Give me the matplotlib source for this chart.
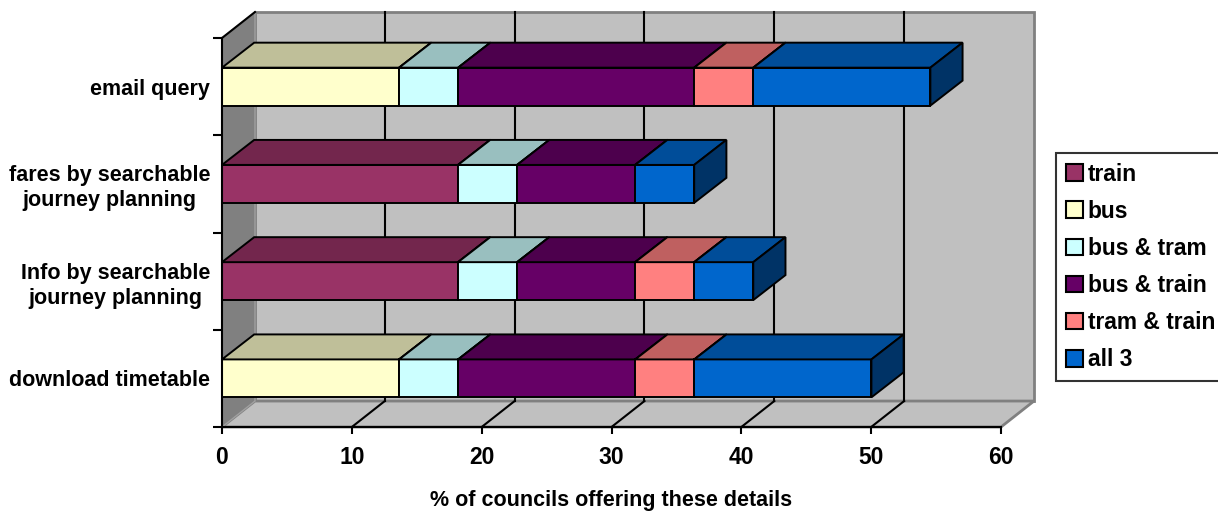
##################################
# Importing necessary modules

import numpy as np
import matplotlib.pyplot as plt
from matplotlib.patches import Polygon, Patch

##################################
# Data: % of 22 councils offering each detail, split by modes covered

categories = ['download timetable',
              'Info by searchable\njourney planning',
              'fares by searchable\njourney planning',
              'email query']
series_names = ['train', 'bus', 'bus & tram', 'bus & train', 'tram & train', 'all 3']
train = [0.0, 18.18, 18.18, 0.0]
bus = [13.64, 0.0, 0.0, 13.64]
bus_tram = [4.55, 4.55, 4.55, 4.55]
bus_train = [13.64, 9.09, 9.09, 18.18]
tram_train = [4.55, 4.55, 0.0, 4.55]
all_3 = [13.64, 4.55, 4.55, 13.64]
colours = ['#993366', '#FFFFCC', '#CCFFFF', '#660066', '#FF8080', '#0066CC']
x_ticks = [0, 10, 20, 30, 40, 50, 60]

series = [train, bus, bus_tram, bus_train, tram_train, all_3]

##################################
# Figure and axes

plt.rcParams['font.family'] = ['Liberation Sans', 'DejaVu Sans']
plt.rcParams['font.weight'] = 'bold'
fs = 15.5

fig = plt.figure(figsize=(12.18, 5.12), dpi=100)
ax = fig.add_axes([222 / 1218, 85 / 512, 779 / 1218, 389 / 512])
ax.set_xlim(0, 60)
ax.set_ylim(-0.5, 3.5)

# depth offsets (data units) for walls and bars
wdx, wdy = 2.54, 0.267
bdx, bdy = 2.48, 0.257
bar_h = 0.39


def shade(c, f):
    rgb = np.array(plt.matplotlib.colors.to_rgb(c))
    return tuple(rgb * f)


# back wall, floor, left wall
ax.add_patch(Polygon([(wdx, -0.5 + wdy), (60 + wdx, -0.5 + wdy),
                      (60 + wdx, 3.5 + wdy), (wdx, 3.5 + wdy)],
                     closed=True, fc='#C0C0C0', ec='#808080', lw=2, zorder=0.5, clip_on=False))
ax.add_patch(Polygon([(0, -0.5), (60, -0.5), (60 + wdx, -0.5 + wdy), (wdx, -0.5 + wdy)],
                     closed=True, fc='#C0C0C0', ec='#808080', lw=2, zorder=0.6, clip_on=False))
ax.add_patch(Polygon([(0, -0.5), (0, 3.5), (wdx, 3.5 + wdy), (wdx, -0.5 + wdy)],
                     closed=True, fc='#808080', ec='#A0A0A0', lw=1, zorder=0.7, clip_on=False))
ax.plot([0, wdx], [3.5, 3.5 + wdy], color='black', lw=1.5, zorder=0.8, clip_on=False)

# gridlines on back wall and floor
for v in x_ticks[1:-1]:
    ax.plot([v + wdx, v + wdx], [-0.5 + wdy, 3.5 + wdy], color='black', lw=1.5,
            zorder=0.8, clip_on=False)
    ax.plot([v, v + wdx], [-0.5, -0.5 + wdy], color='black', lw=1.5,
            zorder=0.8, clip_on=False)

# stacked 3D bars
for i in range(len(categories)):
    left = 0.0
    y0, y1 = i - bar_h / 2, i + bar_h / 2
    for vals, c in zip(series, colours):
        w = vals[i]
        if w <= 0:
            continue
        right = left + w
        front = Polygon([(left, y0), (right, y0), (right, y1), (left, y1)],
                        closed=True, fc=c, ec='black', lw=1.4, zorder=3, clip_on=False)
        top = Polygon([(left, y1), (right, y1), (right + bdx, y1 + bdy), (left + bdx, y1 + bdy)],
                      closed=True, fc=shade(c, 0.75), ec='black', lw=1.4, zorder=3, clip_on=False)
        side = Polygon([(right, y0), (right, y1), (right + bdx, y1 + bdy), (right + bdx, y0 + bdy)],
                       closed=True, fc=shade(c, 0.5), ec='black', lw=1.4, zorder=3, clip_on=False)
        ax.add_patch(front)
        ax.add_patch(top)
        ax.add_patch(side)
        left = right

##################################
# Axes, ticks and labels

for s in ['top', 'right']:
    ax.spines[s].set_visible(False)
for s in ['left', 'bottom']:
    ax.spines[s].set_linewidth(1.5)
    ax.spines[s].set_zorder(4)
ax.patch.set_visible(False)

ax.set_xticks(x_ticks)
ax.set_xticklabels([str(v) for v in x_ticks], fontsize=16.5, fontweight='bold')
ax.tick_params(axis='x', direction='out', length=5, width=1.5, pad=8.5)

ax.set_yticks(range(len(categories)))
ax.set_yticklabels(categories, fontsize=fs, fontweight='bold', linespacing=1.25,
                   multialignment='center')
ax.set_yticks([-0.5, 0.5, 1.5, 2.5, 3.5], minor=True)
ax.tick_params(axis='y', which='major', length=0, pad=8.5)
ax.tick_params(axis='y', which='minor', direction='out', length=6.5, width=1.5)

ax.set_xlabel('% of councils offering these details', fontsize=fs, fontweight='bold',
              va='center')
ax.xaxis.set_label_coords(0.5, -0.19)

# Legend
handles = [Patch(fc=c, ec='black', lw=1.5) for c in colours]
leg = fig.legend(handles, series_names, loc='upper left',
                 bbox_to_anchor=(1056 / 1218, 1 - 153 / 512), borderaxespad=0,
                 fontsize=16.4, frameon=True, fancybox=False, edgecolor='black',
                 handlelength=0.75, handleheight=0.75, handletextpad=0.22,
                 labelspacing=0.62, borderpad=0.42)
leg.get_frame().set_linewidth(1.5)
for t in leg.get_texts():
    t.set_fontweight('bold')

plt.savefig('out.png', dpi=100)
